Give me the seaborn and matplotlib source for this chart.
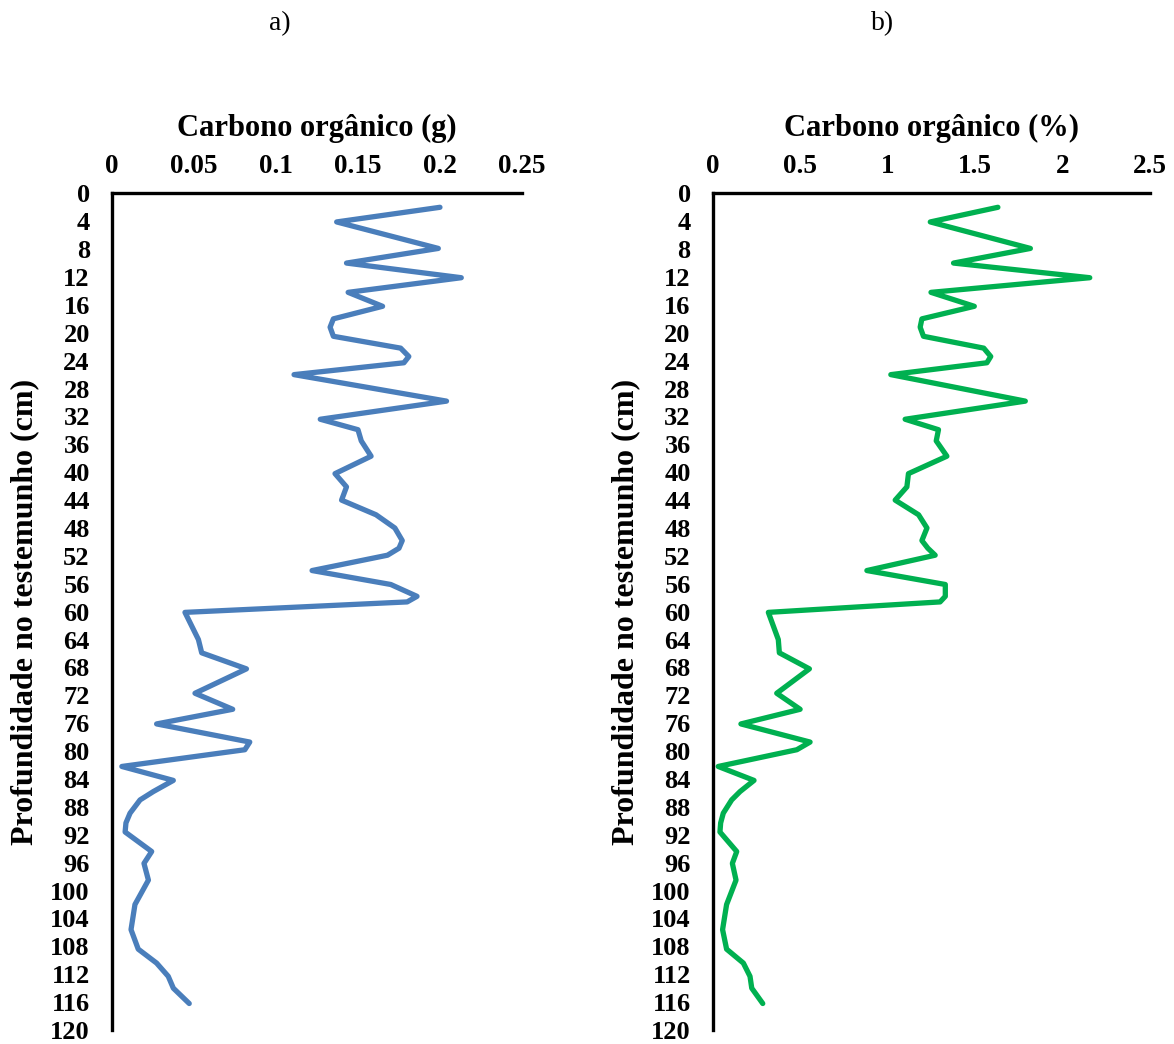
import matplotlib
matplotlib.use("Agg")
import matplotlib.pyplot as plt
import seaborn as sns
import pandas as pd

# Depths (cm) of the profile points
depth = [2, 4.1, 7.9, 10, 12.1, 14.2, 16.2, 18, 19.2, 20.5, 22.2, 23.4, 24.3, 26, 29.8,
         32.4, 33.9, 35.5, 37.7, 40.2, 42.1, 44, 46.1, 48, 49.8, 50.9, 51.9, 54.1, 56.1,
         57.8, 58.6, 60.1, 64, 65.9, 68.2, 71.7, 74, 76.1, 78.7, 79.8, 82.2, 84.2, 85.8,
         87, 88.9, 90.3, 91.6, 94.4, 96.1, 98.5, 102, 105.6, 108.4, 110.4, 112.3, 114,
         116.2]

# Panel a) organic carbon (g)
carbon_g = [0.200, 0.137, 0.199, 0.143, 0.213, 0.144, 0.165, 0.135, 0.133, 0.135, 0.176,
            0.181, 0.178, 0.111, 0.204, 0.127, 0.150, 0.152, 0.158, 0.136, 0.143, 0.140,
            0.161, 0.1725, 0.177, 0.175, 0.168, 0.122, 0.170, 0.186, 0.180, 0.0445,
            0.0527, 0.0547, 0.082, 0.0506, 0.0736, 0.0272, 0.084, 0.081, 0.006, 0.0374,
            0.0252, 0.0171, 0.011, 0.0085, 0.008, 0.0242, 0.0195, 0.0222, 0.014, 0.0116,
            0.016, 0.0272, 0.0343, 0.0374, 0.0471]

# Panel b) organic carbon (%)
carbon_pct = [1.631, 1.244, 1.817, 1.377, 2.157, 1.248, 1.496, 1.196, 1.186, 1.205, 1.55,
              1.59, 1.568, 1.018, 1.788, 1.100, 1.291, 1.278, 1.339, 1.119, 1.110, 1.043,
              1.177, 1.225, 1.196, 1.23, 1.272, 0.881, 1.330, 1.330, 1.30, 0.317,
              0.374, 0.380, 0.552, 0.365, 0.499, 0.160, 0.556, 0.480, 0.030, 0.235,
              0.155, 0.107, 0.059, 0.044, 0.040, 0.136, 0.111, 0.132, 0.078, 0.055,
              0.078, 0.174, 0.212, 0.222, 0.285]

xticks_a = [0, 0.05, 0.1, 0.15, 0.2, 0.25]
xticklabels_a = ["0", "0.05", "0.1", "0.15", "0.2", "0.25"]
xticks_b = [0, 0.5, 1, 1.5, 2, 2.5]
xticklabels_b = ["0", "0.5", "1", "1.5", "2", "2.5"]
yticks = list(range(0, 121, 4))

sns.set_theme(style="white")
plt.rcParams['font.family'] = ['Liberation Serif', 'DejaVu Serif']
plt.rcParams['text.color'] = 'black'
plt.rcParams['axes.labelcolor'] = 'black'
plt.rcParams['xtick.color'] = 'black'
plt.rcParams['ytick.color'] = 'black'

fig = plt.figure(figsize=(11.74, 10.44), dpi=100)
ax_a = fig.add_axes([0.0954, 0.0134, 0.3492, 0.8014])
ax_b = fig.add_axes([0.6073, 0.0134, 0.3720, 0.8014])

df_a = pd.DataFrame({"x": carbon_g, "depth": depth})
df_b = pd.DataFrame({"x": carbon_pct, "depth": depth})

panels = [
    (ax_a, df_a, "#4A7EBB", "Carbono orgânico (g)", xticks_a, xticklabels_a, (0, 0.25)),
    (ax_b, df_b, "#00B050", "Carbono orgânico (%)", xticks_b, xticklabels_b, (0, 2.5)),
]

for ax, df, color, xlabel, xt, xtl, xlim in panels:
    sns.lineplot(data=df, x="x", y="depth", sort=False, orient="y", ax=ax,
                 color=color, linewidth=3.8, solid_joinstyle="round",
                 solid_capstyle="round")
    ax.set_xlim(*xlim)
    ax.set_ylim(120, 0)
    ax.xaxis.tick_top()
    ax.xaxis.set_label_position("top")
    ax.set_xticks(xt)
    ax.set_xticklabels(xtl, fontsize=19.5, fontweight="bold", color="black")
    ax.set_yticks(yticks)
    ax.set_yticklabels([str(v) for v in yticks], fontsize=19, fontweight="bold", color="black")
    ax.tick_params(axis="x", length=0, pad=10)
    ax.tick_params(axis="y", length=0, pad=16)
    ax.set_xlabel(xlabel, fontsize=22, fontweight="bold", labelpad=13, color="black")
    ax.set_ylabel("Profundidade no testemunho (cm)", fontsize=23, fontweight="bold",
                  labelpad=8, color="black")
    for side in ["right", "bottom"]:
        ax.spines[side].set_visible(False)
    for side in ["left", "top"]:
        ax.spines[side].set_visible(True)
        ax.spines[side].set_color("black")
        ax.spines[side].set_linewidth(2.4)
    ax.grid(False)
    ax.set_facecolor("white")

fig.text(280 / 1174, 1 - 24 / 1044, "a)", ha="center", va="center", fontsize=20, color="black")
fig.text(883 / 1174, 1 - 24 / 1044, "b)", ha="center", va="center", fontsize=20, color="black")

fig.savefig("out.png", dpi=100, facecolor="white")
